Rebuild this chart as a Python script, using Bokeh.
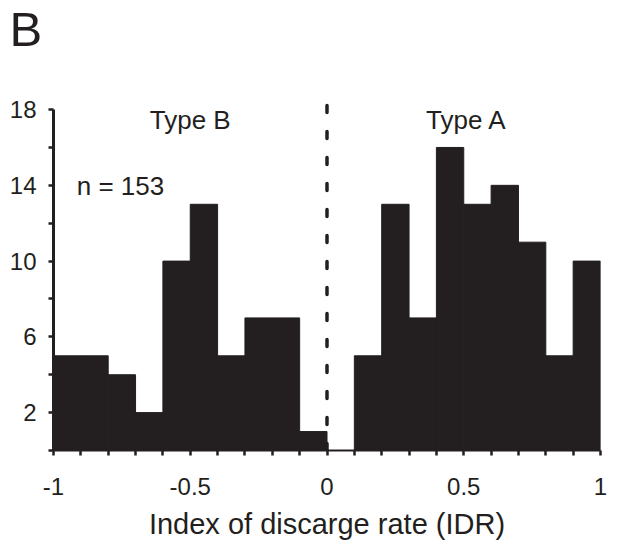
from bokeh.plotting import figure
from bokeh.models import FixedTicker, Label, Title
from bokeh.embed import file_html
from bokeh.resources import INLINE

# data
bin_left = [-1.0, -0.9, -0.8, -0.7, -0.6, -0.5, -0.4, -0.3, -0.2, -0.1,
            0.0, 0.1, 0.2, 0.3, 0.4, 0.5, 0.6, 0.7, 0.8, 0.9]
bin_right = [round(b + 0.1, 1) for b in bin_left]
counts = [5, 5, 4, 2, 10, 13, 5, 7, 7, 1,
          0, 5, 13, 7, 16, 13, 14, 11, 5, 10]
x_major = [-1, -0.5, 0, 0.5, 1]
x_minor = [-0.9, -0.8, -0.7, -0.6, -0.4, -0.3, -0.2, -0.1,
           0.1, 0.2, 0.3, 0.4, 0.6, 0.7, 0.8, 0.9]
y_major = [2, 6, 10, 14, 18]
y_minor = [0, 4, 8, 12, 16]
divider_x = [0]          # IDR boundary between Type B and Type A
divider_top = [18.25]

INK = "#231f20"
FONT = "Liberation Sans"

p = figure(frame_width=547, frame_height=393,
           x_range=(-1, 1), y_range=(0, 20.75),
           output_backend="svg", toolbar_location=None,
           min_border_left=53, min_border_right=13,
           min_border_top=57, min_border_bottom=86)
p.outline_line_color = None
p.grid.grid_line_color = None
p.background_fill_color = "white"

p.quad(left=bin_left, right=bin_right, bottom=0, top=counts,
       fill_color=INK, line_color=INK, line_width=1)

# dashed zero line
p.segment(x0=divider_x, y0=[0], x1=divider_x, y1=divider_top,
          line_color=INK, line_width=3.5, line_dash="7 19", line_cap="round")

# axes
xa = p.xaxis[0]
xa.ticker = FixedTicker(ticks=x_major, minor_ticks=x_minor)
xa.bounds = (-1, 1)
xa.axis_line_color = INK
xa.axis_line_width = 2
xa.major_tick_line_color = INK
xa.major_tick_line_width = 2.5
xa.minor_tick_line_color = INK
xa.minor_tick_line_width = 2.5
xa.major_tick_in = 0
xa.major_tick_out = 5
xa.minor_tick_in = 0
xa.minor_tick_out = 5
xa.major_label_standoff = 22
xa.major_label_text_font = FONT
xa.major_label_text_font_size = "24px"
xa.major_label_text_color = INK
xa.major_label_overrides = {-1: "-1", -0.5: "-0.5", 0: "0", 0.5: "0.5", 1: "1"}
xa.axis_label = "Index of discarge rate (IDR)"
xa.axis_label_text_font = FONT
xa.axis_label_text_font_size = "29px"
xa.axis_label_text_font_style = "normal"
xa.axis_label_text_color = INK
xa.axis_label_standoff = 10

ya = p.yaxis[0]
ya.ticker = FixedTicker(ticks=y_major, minor_ticks=y_minor)
ya.bounds = (0, 18)
ya.axis_line_color = INK
ya.axis_line_width = 3
ya.major_tick_line_color = INK
ya.major_tick_line_width = 2.5
ya.minor_tick_line_color = INK
ya.minor_tick_line_width = 2.5
ya.major_tick_in = 0
ya.major_tick_out = 5
ya.minor_tick_in = 0
ya.minor_tick_out = 5
ya.major_label_standoff = 12
ya.major_label_text_font = FONT
ya.major_label_text_font_size = "24px"
ya.major_label_text_color = INK

# annotations
p.add_layout(Label(x=-0.5, y=17.45, text="Type B", text_align="center",
                   text_baseline="middle", text_font=FONT,
                   text_font_size="26px", text_color=INK))
p.add_layout(Label(x=0.51, y=17.45, text="Type A", text_align="center",
                   text_baseline="middle", text_font=FONT,
                   text_font_size="26px", text_color=INK))
p.add_layout(Label(x=-0.915, y=13.97, text="n = 153", text_align="left",
                   text_baseline="middle", text_font=FONT,
                   text_font_size="26px", text_color=INK))

panel = Title(text="B", align="left", offset=-44, standoff=0,
              vertical_align="top",
              text_font=FONT, text_font_size="49px",
              text_font_style="normal", text_color=INK)
p.add_layout(panel, "above")

open("out.html", "w").write(file_html(p, INLINE))
